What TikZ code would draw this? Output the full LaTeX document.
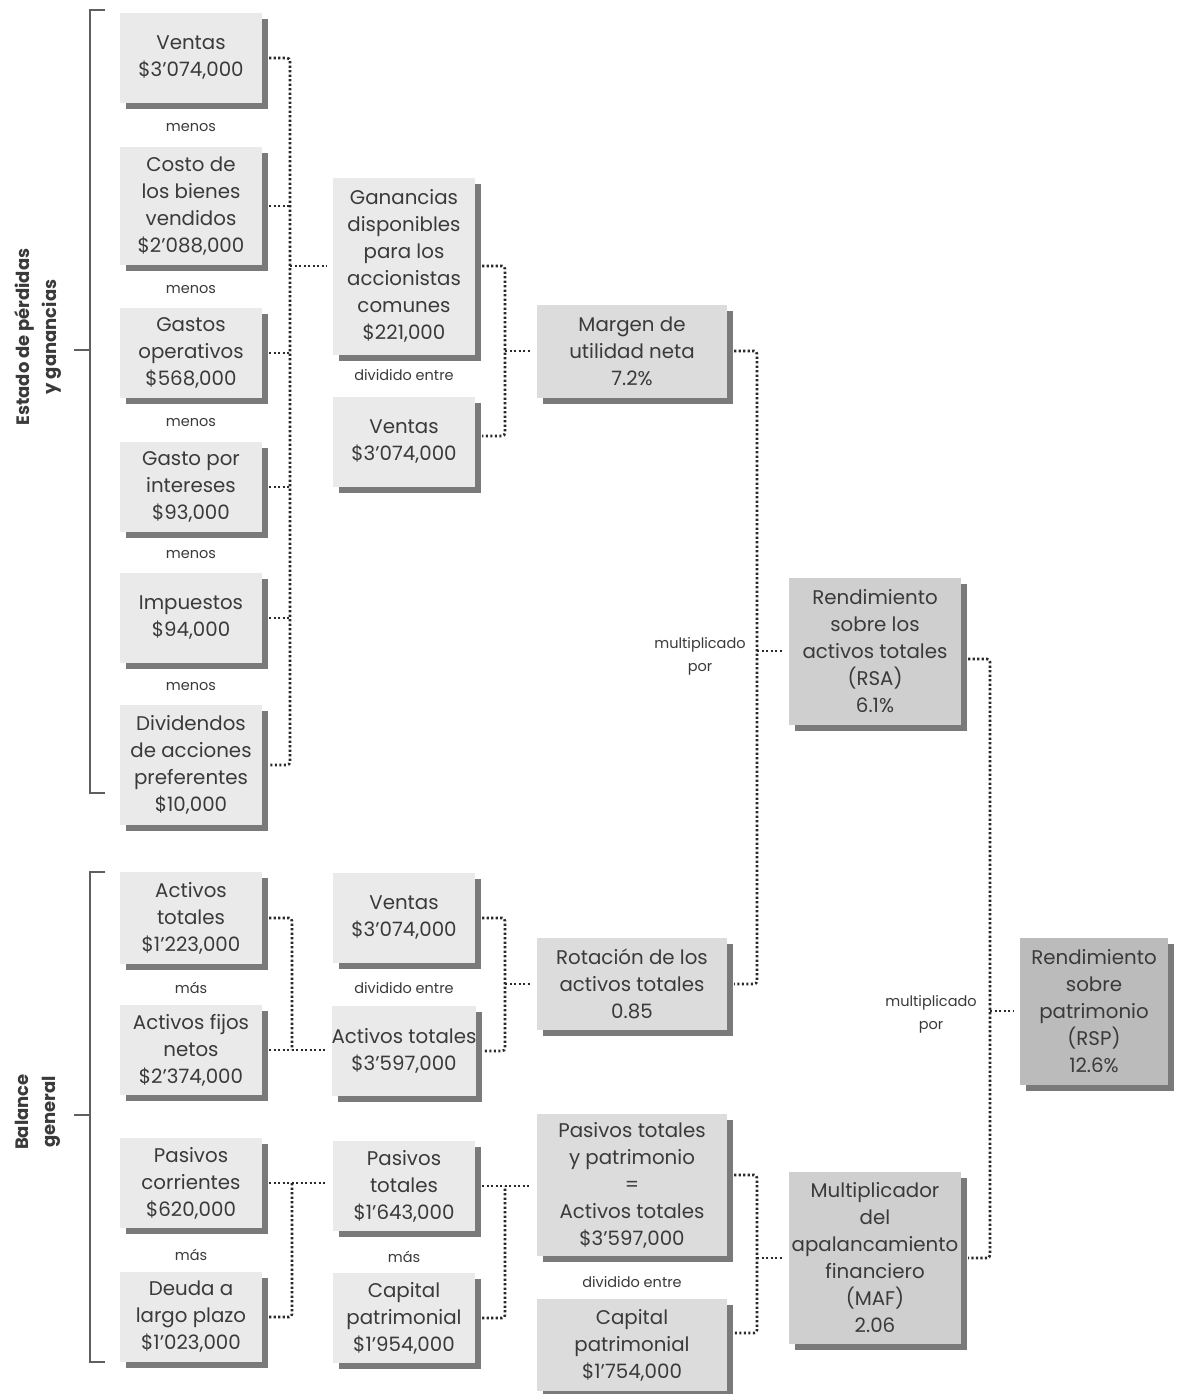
\documentclass[tikz,border=0pt]{standalone}
\usepackage{fontspec}
\setmainfont{Poppins}
\usetikzlibrary{shadows,calc}
\definecolor{txt}{HTML}{3A3A3A}
\definecolor{shd}{HTML}{7A7A7A}
\definecolor{fa}{HTML}{EAEAEA}
\definecolor{fc}{HTML}{DCDCDC}
\definecolor{fd}{HTML}{CFCFCF}
\definecolor{fe}{HTML}{BBBBBB}
\definecolor{ln}{HTML}{2A2A2A}
\newcommand\bxf{\fontsize{19.8}{27}\selectfont}
\newcommand\smf{\fontsize{14.5}{23}\selectfont}
\begin{document}
\begin{tikzpicture}[x=1pt,y=-1pt,
 box/.style={fill=#1, align=center, inner sep=0pt, text=txt, font=\bxf,
   drop shadow={shadow xshift=6pt, shadow yshift=-6pt, fill=shd, opacity=1}},
 box/.default=fa,
 sz/.style 2 args={minimum width=#1, minimum height=#2},
 lbl/.style={text=txt, font=\smf, align=center, inner sep=0pt},
 conn/.style={draw=ln, line width=2.6pt, dash pattern=on 2.2pt off 2.3pt, rounded corners=3pt},
 brk/.style={draw=ln!75, line width=1.2pt},
 side/.style={text=txt, font=\fontsize{18}{27}\selectfont\bfseries, align=center, rotate=90, inner sep=0pt},
]
\useasboundingbox (0,0) rectangle (1177,1394);
\fill[white] (0,0) rectangle (1177,1394);

% column 1 (upper)
\node[box, sz={142pt}{90pt}] (v1) at (191,58) {Ventas\\\$3’074,000};
\node[lbl] (m1) at (191,128) {menos};
\node[box, sz={142pt}{118pt}] (cb) at (191,206) {Costo de\\los bienes\\vendidos\\\$2’088,000};
\node[lbl] (m2) at (191,290) {menos};
\node[box, sz={142pt}{90pt}] (go) at (191,353) {Gastos\\operativos\\\$568,000};
\node[lbl] (m3) at (191,423) {menos};
\node[box, sz={142pt}{90pt}] (gi) at (191,487) {Gasto por\\intereses\\\$93,000};
\node[lbl] (m4) at (191,555) {menos};
\node[box, sz={142pt}{90pt}] (im) at (191,618) {Impuestos\\\$94,000};
\node[lbl] (m5) at (191,687) {menos};
\node[box, sz={142pt}{120pt}] (dv) at (191,765) {Dividendos\\de acciones\\preferentes\\\$10,000};

% column 1 (lower)
\node[box, sz={142pt}{92pt}] (at) at (191,918) {Activos\\totales\\\$1’223,000};
\node[lbl] (m6) at (191,988) {más};
\node[box, sz={142pt}{90pt}] (af) at (191,1050) {Activos fijos\\netos\\\$2’374,000};
\node[box, sz={142pt}{90pt}] (pc) at (191,1183) {Pasivos\\corrientes\\\$620,000};
\node[lbl] (m7) at (191,1255) {más};
\node[box, sz={142pt}{90pt}] (dl) at (191,1317) {Deuda a\\largo plazo\\\$1’023,000};

% column 2
\node[box, sz={142pt}{177pt}] (gd) at (404,266) {Ganancias\\disponibles\\para los\\accionistas\\comunes\\\$221,000};
\node[lbl] (d1) at (404,375) {dividido entre};
\node[box, sz={142pt}{90pt}] (v2) at (404,442) {Ventas\\\$3’074,000};
\node[box, sz={142pt}{90pt}] (v3) at (404,918) {Ventas\\\$3’074,000};
\node[lbl] (d2) at (404,988) {dividido entre};
\node[box, sz={142pt}{90pt}] (at2) at (404,1051) {Activos totales\\\$3’597,000};
\node[box, sz={142pt}{90pt}] (pt) at (404,1186) {Pasivos\\totales\\\$1’643,000};
\node[lbl] (m8) at (404,1257) {más};
\node[box, sz={142pt}{90pt}] (cp) at (404,1318) {Capital\\patrimonial\\\$1’954,000};

% column 3
\node[box=fc, sz={190pt}{93pt}] (mu) at (632,351) {Margen de\\utilidad neta\\7.2\%};
\node[box=fc, sz={190pt}{92pt}] (ro) at (632,984) {Rotación de los\\activos totales\\0.85};
\node[box=fc, sz={190pt}{142pt}] (ptp) at (632,1185) {Pasivos totales\\y patrimonio\\=\\Activos totales\\\$3’597,000};
\node[lbl] (d3) at (632,1282) {dividido entre};
\node[box=fc, sz={190pt}{92pt}] (cp3) at (632,1345) {Capital\\patrimonial\\\$1’754,000};

% column 4 and 5
\node[box=fd, sz={172pt}{147pt}] (rsa) at (875,651) {Rendimiento\\sobre los\\activos totales\\(RSA)\\6.1\%};
\node[box=fd, sz={172pt}{172pt}] (maf) at (875,1258) {Multiplicador\\del\\apalancamiento\\financiero\\(MAF)\\2.06};
\node[box=fe, sz={148pt}{147pt}] (rsp) at (1094,1011) {Rendimiento\\sobre\\patrimonio\\(RSP)\\12.6\%};

\node[lbl] (x1) at (700,656) {multiplicado\\por};
\node[lbl] (x2) at (931,1014) {multiplicado\\por};

% side labels and brackets
\node[side] (s1) at (38,337) {Estado de pérdidas\\y ganancias};
\node[side] (s2) at (38,1112) {Balance\\general};
\draw[brk] (105,10) -- (90,10) -- (90,793) -- (105,793);
\draw[brk] (90,350) -- (74,350);
\draw[brk] (105,872) -- (90,872) -- (90,1362) -- (105,1362);
\draw[brk] (90,1115) -- (74,1115);

% bus coordinates
\coordinate (b1) at (290,400);
\coordinate (b2) at (505,350);
\coordinate (b3) at (757,660);
\coordinate (b4) at (990,900);
\coordinate (b5) at (292,980);
\coordinate (b6) at (292,1250);
\coordinate (b7) at (505,980);
\coordinate (b8) at (505,1250);
\coordinate (b9) at (757,1260);

% connectors
\draw[conn, shorten <=7pt, shorten >=7pt] (v1.east) -| (b1) |- (dv.east);
\foreach \n in {cb,go,gi,im} \draw[conn, shorten <=7pt] (\n.east) -- (\n.east -| b1);
\draw[conn, shorten >=6pt] (b1 |- gd.west) -- (gd.west);

\draw[conn, shorten <=7pt, shorten >=7pt] (gd.east) -| (b2) |- ([yshift=6pt]v2.east);
\draw[conn, shorten >=6pt] (b2 |- mu.west) -- (mu.west);

\draw[conn, shorten <=7pt, shorten >=7pt] (mu.east) -| (b3) |- (ro.east);
\draw[conn, shorten >=6pt] (b3 |- rsa.west) -- (rsa.west);

\draw[conn, shorten <=7pt, shorten >=7pt] ([yshift=-8pt]rsa.east) -| (b4) |- (maf.east);
\draw[conn, shorten >=6pt] (b4 |- rsp.west) -- (rsp.west);

\draw[conn, shorten <=7pt] (at.east) -| (b5 |- af.east);
\draw[conn, shorten <=7pt, shorten >=6pt] (af.east) -- (af.east -| at2.west);

\draw[conn, shorten <=7pt] (dl.east) -| (b6 |- pc.east);
\draw[conn, shorten <=7pt, shorten >=6pt] (pc.east) -- (pc.east -| pt.west);

\draw[conn, shorten <=7pt, shorten >=7pt] (v3.east) -| (b7) |- (at2.east);
\draw[conn, shorten >=6pt] (b7 |- ro.west) -- (ro.west);

\draw[conn, shorten <=7pt] (cp.east) -| (b8 |- pt.east);
\draw[conn, shorten <=7pt, shorten >=6pt] (pt.east) -- (pt.east -| ptp.west);

\draw[conn, shorten <=7pt, shorten >=7pt] ([yshift=10pt]ptp.east) -| (b9) |- ([yshift=12pt]cp3.east);
\draw[conn, shorten >=6pt] (b9 |- maf.west) -- (maf.west);
\end{tikzpicture}
\end{document}
